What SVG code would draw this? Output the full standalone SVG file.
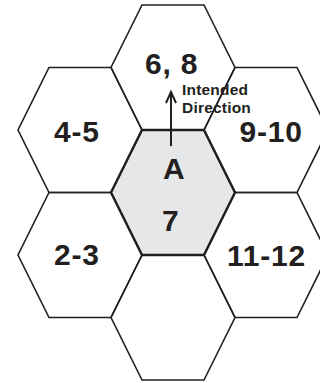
<svg xmlns="http://www.w3.org/2000/svg" width="320" height="383" viewBox="0 0 320 383">
<style>
.hex{fill:none;stroke:#231f20;stroke-width:1.6;stroke-linejoin:miter}
.ctr{fill:#e6e7e8;stroke:#231f20;stroke-width:2.4}
.big{font-family:"Liberation Sans",Arial,sans-serif;font-weight:bold;font-size:30px;letter-spacing:0.8px;fill:#231f20}
.small{font-family:"Liberation Sans",Arial,sans-serif;font-weight:bold;font-size:15.5px;letter-spacing:0.2px;fill:#231f20}
.arr{fill:none;stroke:#231f20;stroke-width:2}
</style>
<rect width="320" height="383" fill="#fff"/>
<g id="hex-center">
<polygon class="ctr" points="142,130 204,130 235,192.5 204,255 142,255 111,192.5"/>
<text class="big" x="163" y="179">A</text>
<text class="big" x="162" y="231">7</text>
</g>
<g id="connectors">
<path class="arr" d="M171,146 V92"/>
<path class="arr" d="M166,103 L171,92 L176,103"/>
<text class="small" x="182" y="95">Intended</text>
<text class="small" x="182" y="113">Direction</text>
</g>
<g id="hex-top">
<polygon class="hex" points="142,5 204,5 235,67.5 204,130 142,130 111,67.5"/>
<text class="big" x="145" y="74">6, 8</text>
</g>
<g id="hex-upper-left">
<polygon class="hex" points="49,67.5 111,67.5 142,130 111,192.5 49,192.5 18,130"/>
<text class="big" x="54" y="142">4-5</text>
</g>
<g id="hex-upper-right">
<polygon class="hex" points="235,67.5 297,67.5 328,130 297,192.5 235,192.5 204,130"/>
<text class="big" x="239.5" y="142">9-10</text>
</g>
<g id="hex-lower-left">
<polygon class="hex" points="49,192.5 111,192.5 142,255 111,317.5 49,317.5 18,255"/>
<text class="big" x="54" y="265">2-3</text>
</g>
<g id="hex-lower-right">
<polygon class="hex" points="235,192.5 297,192.5 328,255 297,317.5 235,317.5 204,255"/>
<text class="big" x="227" y="265.5">11-12</text>
</g>
<g id="hex-bottom">
<polygon class="hex" points="142,255 204,255 235,317.5 204,380 142,380 111,317.5"/>
</g>
</svg>
